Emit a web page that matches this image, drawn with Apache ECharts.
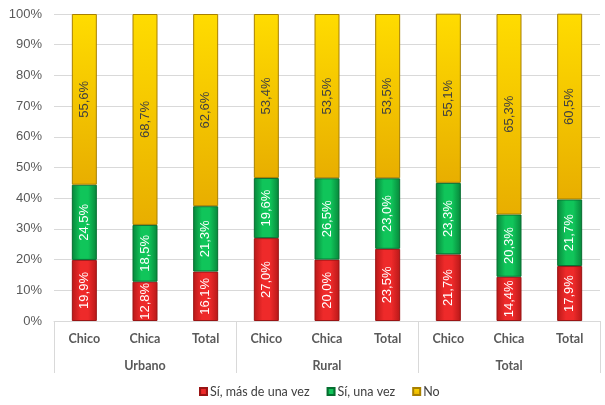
<!DOCTYPE html>
<html>
<head>
<meta charset="utf-8">
<script src="https://cdn.jsdelivr.net/npm/echarts@6/dist/echarts.min.js"></script>
<style>html,body{margin:0;padding:0;background:#fff}#c{width:605px;height:405px}</style>
</head>
<body>
<div id="c"></div>
<script>
const categories = ['Chico','Chica','Total','Chico','Chica','Total','Chico','Chica','Total'];
const groups = ['Urbano','Rural','Total'];
const seriesNames = ['Sí, más de una vez','Sí, una vez','No'];
const masDeUnaVez = [19.9, 12.8, 16.1, 27.0, 20.0, 23.5, 21.7, 14.4, 17.9];
const unaVez = [24.5, 18.5, 21.3, 19.6, 26.5, 23.0, 23.3, 20.3, 21.7];
const no = [55.6, 68.7, 62.6, 53.4, 53.5, 53.5, 55.1, 65.3, 60.5];

function grad(edge, mid) {
  return new echarts.graphic.LinearGradient(0, 0, 1, 0, [
    {offset: 0, color: edge}, {offset: 0.35, color: mid}, {offset: 0.65, color: mid}, {offset: 1, color: edge}
  ]);
}
const fmt = p => p.value.toFixed(1).replace('.', ',') + '%';
function mk(name, data, color, border, labelColor) {
  return {
    name, type: 'bar', stack: 'a', data, barWidth: 25,
    itemStyle: {color, borderColor: border, borderWidth: 1},
    label: {show: true, position: 'inside', rotate: 90, formatter: fmt,
      color: labelColor, fontSize: 13, fontFamily: 'Liberation Sans'},
    emphasis: {disabled: true}
  };
}
const chart = echarts.init(document.getElementById('c'));
chart.setOption({
  animation: false,
  color: ['#e52222', '#00b050', '#f5c400'],
  grid: {left: 54, right: 5, top: 14, bottom: 84},
  legend: {
    bottom: 2, left: 194, itemWidth: 7, itemHeight: 7, itemGap: 17, icon: 'rect',
    textStyle: {color: '#404040', fontSize: 12.5, fontFamily: 'Lato', padding: [0, 0, 0, -2]},
    data: seriesNames
  },
  xAxis: [
    {type: 'category', data: categories, position: 'bottom',
      axisLine: {lineStyle: {color: '#d9d9d9'}},
      axisTick: {show: true, length: 52, interval: (i) => i % 3 === 0 && i < 9, lineStyle: {color: '#d9d9d9'}},
      axisLabel: {color: '#595959', fontWeight: 'bold', fontSize: 12.5, fontFamily: 'Lato', margin: 11}},
    {type: 'category', data: groups, position: 'bottom', offset: 27,
      axisLine: {show: false}, axisTick: {show: false},
      axisLabel: {color: '#595959', fontWeight: 'bold', fontSize: 12.5, fontFamily: 'Lato', margin: 11}}
  ],
  yAxis: {type: 'value', min: 0, max: 100, interval: 10,
    axisLabel: {formatter: '{value}%', color: '#595959', fontSize: 13, fontFamily: 'Liberation Sans', margin: 12},
    splitLine: {lineStyle: {color: '#d9d9d9'}},
    axisLine: {show: false}, axisTick: {show: false}},
  series: [
    mk(seriesNames[0], masDeUnaVez, grad('#b81818', '#ee2a2a'), '#9a1414', '#ffffff'),
    mk(seriesNames[1], unaVez, grad('#07863a', '#10c55a'), '#066e30', '#ffffff'),
    mk(seriesNames[2], no, new echarts.graphic.LinearGradient(0, 0, 0, 1, [
      {offset: 0, color: '#ffdc00'}, {offset: 1, color: '#e8ae00'}]), '#a88000', '#404040')
  ]
});
</script>
</body>
</html>
